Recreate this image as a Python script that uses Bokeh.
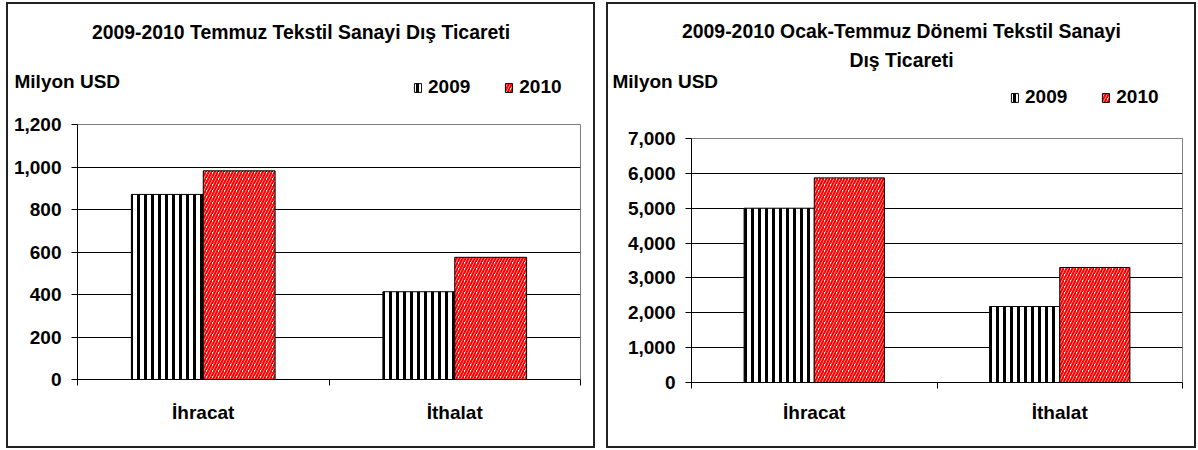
from bokeh.plotting import figure
from bokeh.models import (Range1d, FixedTicker, SingleIntervalTicker, NumeralTickFormatter,
                          Legend, LegendItem, Label, Title)
from bokeh.embed import file_html
from bokeh.resources import INLINE

# ---------------- data ----------------
categories = ["İhracat", "İthalat"]
years = ["2009", "2010"]
temmuz_2009 = [871, 413]
temmuz_2010 = [982, 575]
ocak_temmuz_2009 = [5000, 2180]
ocak_temmuz_2010 = [5870, 3300]

left_title_lines = ["2009-2010 Temmuz Tekstil Sanayi Dış Ticareti"]
right_title_lines = ["2009-2010 Ocak-Temmuz Dönemi Tekstil Sanayi", "Dış Ticareti"]
y_label = "Milyon USD"
left_y_max, left_y_step = 1200, 200
right_y_max, right_y_step = 7000, 1000

FONT = "Liberation Sans"
FS = "19px"
FS_TITLE = "19.4px"
W_BAR = 1.0 / 3.5  # Excel gap width 150%

STYLE_2009 = dict(fill_color="white", hatch_pattern="vertical_line", hatch_color="black",
                  hatch_scale=7, hatch_weight=3, line_color="black", line_width=1)
STYLE_2010 = dict(fill_color="white", hatch_pattern="right_diagonal_line",
                  hatch_color="#ff0000", hatch_scale=6, hatch_weight=2.2,
                  line_color="black", line_width=1)


def bar_positions():
    centers = [i + 0.5 for i in range(len(categories))]
    return centers, [c - W_BAR / 2 for c in centers], [c + W_BAR / 2 for c in centers]


def make_chart(v2009, v2010, ymax, ystep, width, height, mb, left, top, xlabel_standoff):
    n = len(categories)
    centers, x2009, x2010 = bar_positions()
    p = figure(width=width, height=height, x_range=Range1d(0, n), y_range=Range1d(0, ymax),
               output_backend="svg", toolbar_location=None, title=None,
               min_border_left=mb[0], min_border_right=mb[1],
               min_border_top=mb[2], min_border_bottom=mb[3])
    p.vbar(x=x2009, top=v2009, width=W_BAR, **STYLE_2009)
    p.vbar(x=x2010, top=v2010, width=W_BAR, **STYLE_2010)

    ya = p.yaxis[0]
    ya.ticker = SingleIntervalTicker(interval=ystep, num_minor_ticks=0)
    ya.formatter = NumeralTickFormatter(format="0,0")
    ya.major_label_text_font = FONT
    ya.major_label_text_font_size = FS
    ya.major_label_text_font_style = "bold"
    ya.major_label_text_color = "black"
    ya.major_tick_out = 6
    ya.major_tick_in = 0
    ya.major_tick_line_color = "black"
    ya.minor_tick_line_color = None
    ya.major_label_standoff = 10
    ya.axis_line_color = "black"

    xa = p.xaxis[0]
    xa.ticker = FixedTicker(ticks=centers, minor_ticks=list(range(n + 1)))
    xa.major_label_overrides = {c: cat for c, cat in zip(centers, categories)}
    xa.major_label_text_font = FONT
    xa.major_label_text_font_size = FS
    xa.major_label_text_font_style = "bold"
    xa.major_label_text_color = "black"
    xa.major_tick_line_color = None
    xa.major_tick_out = 0
    xa.major_tick_in = 0
    xa.minor_tick_out = 6
    xa.minor_tick_in = 0
    xa.minor_tick_line_color = "black"
    xa.major_label_standoff = xlabel_standoff
    xa.axis_line_color = "black"

    p.xgrid.visible = False
    p.ygrid.grid_line_color = "black"
    p.ygrid.grid_line_width = 1
    p.outline_line_color = "#808080"
    p.background_fill_color = "white"
    p.border_fill_color = "white"
    p.styles = {"position": "absolute", "left": f"{left}px", "top": f"{top}px",
                "outline": "2px solid #222"}
    return p


def title_obj(text, standoff):
    return Title(text=text, align="center", standoff=standoff, text_font=FONT,
                 text_font_size=FS_TITLE, text_font_style="bold", text_color="black")


def make_header(title_lines, v2009, v2010, width, height, title_space, left, top,
                legend_loc, ylabel_xy):
    """Transparent overlay carrying the chart title, the unit label and the legend."""
    centers, x2009, x2010 = bar_positions()
    h = figure(width=width, height=height, x_range=Range1d(0, 1), y_range=Range1d(0, 1),
               output_backend="svg", toolbar_location=None,
               title=title_obj(title_lines[0], 10 if len(title_lines) > 1 else 0),
               x_axis_type=None, y_axis_type=None,
               min_border_left=0, min_border_right=0, min_border_bottom=0,
               min_border_top=title_space)
    # further title lines, the last one closest to the frame
    for k, line in enumerate(reversed(title_lines[1:])):
        h.add_layout(title_obj(line, 0 if k == 0 else 10), "above")

    # legend swatches: same series & styles, not drawn in this overlay
    r1 = h.vbar(x=x2009, top=v2009, width=W_BAR, visible=False, **STYLE_2009)
    r2 = h.vbar(x=x2010, top=v2010, width=W_BAR, visible=False, **STYLE_2010)
    legend = Legend(items=[LegendItem(label=years[0], renderers=[r1]),
                           LegendItem(label=years[1], renderers=[r2])],
                    orientation="horizontal", location=legend_loc, padding=0, margin=0,
                    border_line_color=None, background_fill_alpha=0,
                    inactive_fill_alpha=0,
                    glyph_width=9, glyph_height=11, label_standoff=6, spacing=34,
                    label_text_font=FONT, label_text_font_size=FS,
                    label_text_font_style="bold", label_text_color="black",
                    label_height=22)
    h.add_layout(legend)
    h.add_layout(Label(x=ylabel_xy[0], y=ylabel_xy[1], x_units="screen", y_units="screen",
                       text=y_label, text_font=FONT, text_font_size=FS,
                       text_font_style="bold", text_color="black",
                       text_align="left", text_baseline="alphabetic"))
    h.outline_line_color = None
    h.background_fill_alpha = 0
    h.border_fill_alpha = 0
    h.styles = {"position": "absolute", "left": f"{left}px", "top": f"{top}px"}
    return h


p1 = make_chart(temmuz_2009, temmuz_2010, left_y_max, left_y_step, width=585, height=442,
                mb=(69, 13, 120, 67), left=8, top=4, xlabel_standoff=16)
h1 = make_header(left_title_lines, temmuz_2009, temmuz_2010, width=585, height=106,
                 title_space=38, left=8, top=4, legend_loc=(405, 12), ylabel_xy=(6, 29))

p2 = make_chart(ocak_temmuz_2009, ocak_temmuz_2010, right_y_max, right_y_step, width=586,
                height=442, mb=(83, 12, 134, 64), left=608, top=4, xlabel_standoff=13)
h2 = make_header(right_title_lines, ocak_temmuz_2009, ocak_temmuz_2010, width=586,
                 height=111, title_space=66, left=608, top=4, legend_loc=(402, 7),
                 ylabel_xy=(4, 34))

open("out.html", "w").write(file_html([p1, h1, p2, h2], INLINE))
